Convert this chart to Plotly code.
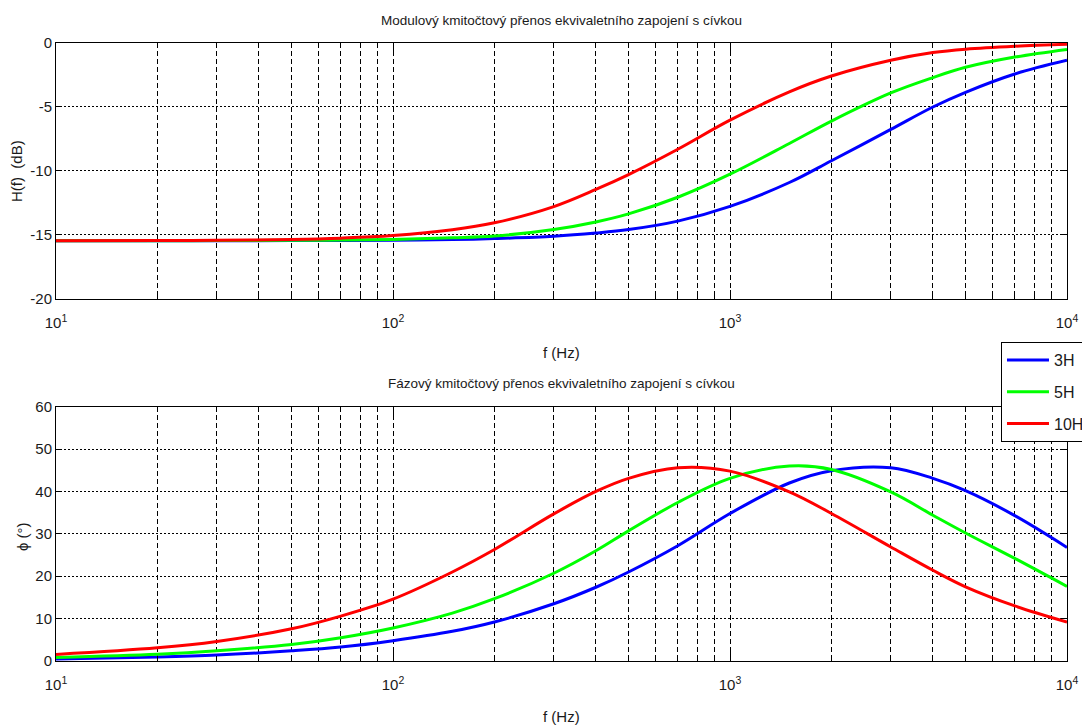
import plotly.graph_objects as go
from plotly.subplots import make_subplots

# ---- data ----
freq = [10, 20, 30, 50, 70, 100, 150, 200, 300, 400, 500, 700, 1000, 1500,
        2000, 3000, 4000, 5000, 7000, 10000]

mag_3H = [-15.45, -15.45, -15.45, -15.44, -15.43, -15.41, -15.36, -15.28, -15.10, -14.85,
          -14.58, -13.92, -12.77, -10.90, -9.20, -6.75, -5.00, -3.85, -2.42, -1.35]
mag_5H = [-15.45, -15.45, -15.44, -15.42, -15.40, -15.35, -15.22, -15.08, -14.57, -13.98,
          -13.35, -12.05, -10.25, -7.85, -6.10, -3.90, -2.70, -1.90, -1.10, -0.50]
mag_10H = [-15.45, -15.44, -15.42, -15.35, -15.25, -15.05, -14.60, -14.05, -12.78, -11.44,
           -10.28, -8.30, -6.03, -3.82, -2.58, -1.35, -0.75, -0.48, -0.25, -0.10]

ph_3H = [0.5, 0.95, 1.4, 2.4, 3.3, 4.8, 7.0, 9.2, 13.5, 17.4, 21.0, 27.2, 34.8, 42.0,
         44.9, 45.6, 43.1, 40.2, 34.3, 26.8]
ph_5H = [0.85, 1.6, 2.4, 3.9, 5.5, 7.8, 11.3, 14.7, 20.7, 26.0, 30.7, 37.4, 43.1, 46.0,
         45.2, 39.9, 34.4, 30.2, 24.2, 17.6]
ph_10H = [1.55, 3.1, 4.6, 7.6, 10.6, 14.6, 21.0, 26.3, 34.7, 40.0, 43.1, 45.6, 44.8, 39.9,
          34.8, 26.9, 21.4, 17.5, 13.0, 9.2]

series_names = ["3H", "5H", "10H"]
series_colors = ["#0000FF", "#00FF00", "#FF0000"]
mag_series = [mag_3H, mag_5H, mag_10H]
ph_series = [ph_3H, ph_5H, ph_10H]

x_tickvals = [10, 100, 1000, 10000]
x_ticktext = ["10<sup>1</sup>", "10<sup>2</sup>", "10<sup>3</sup>", "10<sup>4</sup>"]
x_minorvals = [m * d for d in (10, 100, 1000) for m in range(2, 10)]
mag_ticks = [-20, -15, -10, -5, 0]
mag_ticktext = ["-20", "-15", "-10", "-5", "0"]
ph_ticks = [0, 10, 20, 30, 40, 50, 60]

title_top = "Modulový kmitočtový přenos ekvivaletního zapojení s cívkou"
title_bot = "Fázový kmitočtový přenos ekvivaletního zapojení s cívkou"

FONT = "Liberation Sans Narrow, Arial Narrow, Liberation Sans, Arial, sans-serif"
TXT = "#1a1a1a"

fig = make_subplots(rows=2, cols=1)

for name, col, m, p in zip(series_names, series_colors, mag_series, ph_series):
    fig.add_trace(go.Scatter(x=freq, y=m, mode="lines", name=name, legendgroup=name,
                             line=dict(color=col, width=3, shape="spline")), row=1, col=1)
    fig.add_trace(go.Scatter(x=freq, y=p, mode="lines", name=name, legendgroup=name,
                             showlegend=False,
                             line=dict(color=col, width=3, shape="spline")), row=2, col=1)

xcommon = dict(type="log", range=[1, 4], tickmode="array", tickvals=x_tickvals,
               ticktext=x_ticktext, showline=True, linecolor="black", linewidth=1,
               mirror="allticks", ticks="inside", ticklen=9, tickcolor="black",
               ticklabelstandoff=10,
               showgrid=True, gridcolor="black", gridwidth=1, griddash="5px,3px",
               zeroline=False,
               minor=dict(tickmode="array", tickvals=x_minorvals, ticks="inside",
                          ticklen=5, tickcolor="black", showgrid=True,
                          gridcolor="black", gridwidth=1, griddash="5px,3px"),
               tickfont=dict(family=FONT, size=15, color=TXT))

fig.update_xaxes(**xcommon)
fig.update_xaxes(domain=[0, 1])

ycommon = dict(showline=True, linecolor="black", linewidth=1, mirror="allticks",
               ticks="inside", ticklen=6, tickcolor="black", showgrid=True,
               gridcolor="black", gridwidth=1, griddash="2px,2px", zeroline=False,
               tickfont=dict(family=FONT, size=15, color=TXT))
fig.update_yaxes(**ycommon)
fig.update_yaxes(range=[-20, 0], tickmode="array", tickvals=mag_ticks,
                 ticktext=mag_ticktext, domain=[0.5858, 1.0], row=1, col=1)
fig.update_yaxes(range=[0, 60], tickmode="array", tickvals=ph_ticks,
                 domain=[0.0, 0.4115], row=2, col=1)

afont = dict(family=FONT, size=15, color=TXT)
tfont = dict(family=FONT, size=13.5, color=TXT)
annots = [
    dict(text=title_top, x=0.5, y=1.0372, xref="paper", yref="paper",
         xanchor="center", yanchor="middle", showarrow=False, font=tfont),
    dict(text=title_bot, x=0.5, y=0.4498, xref="paper", yref="paper",
         xanchor="center", yanchor="middle", showarrow=False, font=tfont),
    dict(text="f (Hz)", x=0.5, y=0.5, xref="paper", yref="paper",
         xanchor="center", yanchor="middle", showarrow=False, font=afont),
    dict(text="f (Hz)", x=0.5, y=-0.0906, xref="paper", yref="paper",
         xanchor="center", yanchor="middle", showarrow=False, font=afont),
    dict(text="H(f)  (dB)", x=-0.0386, y=0.7929, xref="paper", yref="paper",
         xanchor="center", yanchor="middle", showarrow=False, font=afont, textangle=-90),
    dict(text="ϕ (°)", x=-0.0336, y=0.2006, xref="paper", yref="paper",
         xanchor="center", yanchor="middle", showarrow=False, font=afont, textangle=-90),
]

fig.update_layout(
    width=1082, height=728,
    margin=dict(l=56, r=15, t=43, b=67, autoexpand=False),
    paper_bgcolor="white", plot_bgcolor="white",
    font=dict(family=FONT, size=15, color=TXT),
    annotations=annots,
    showlegend=True,
    legend=dict(x=0.9347, y=0.5162, xanchor="left", yanchor="top",
                bgcolor="white", bordercolor="black", borderwidth=1,
                font=dict(family=FONT, size=16, color=TXT),
                itemwidth=42,
                traceorder="grouped", tracegroupgap=8),
)

fig.write_html("out.html")
